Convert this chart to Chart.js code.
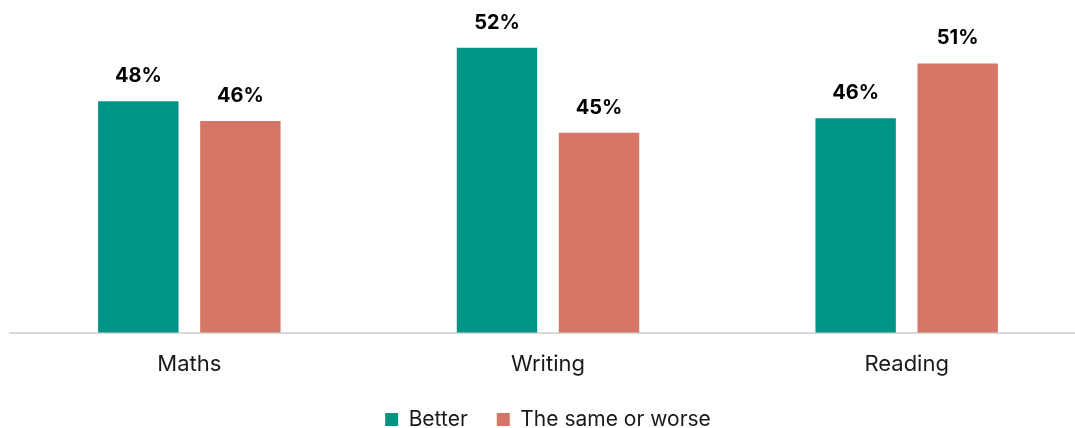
<!DOCTYPE html>
<html lang="en">
<head>
    <meta charset="UTF-8">
    <title>Better vs same or worse</title>
    <script src="https://cdn.jsdelivr.net/npm/chart.js@4.4.1/dist/chart.umd.min.js"></script>
    <style>
        html, body { margin: 0; padding: 0; background: #fff; overflow: hidden; }
        #wrap { width: 1090px; height: 428px; }
    </style>
</head>
<body>
    <div id="wrap"><canvas id="grafico" width="1090" height="428"></canvas></div>

    <script>
        // categories and series (percent)
        const subjects = ['Maths', 'Writing', 'Reading'];
        const better = [47.7, 51.8, 46.4];
        const sameOrWorse = [46.2, 45.3, 50.6];

        const teal = '#009487';
        const salmon = '#D67666';
        const fontFamily = 'Inter, "Open Sans", sans-serif';

        // value labels above the bars
        const barLabels = {
            id: 'barLabels',
            afterDatasetsDraw(chart) {
                const ctx = chart.ctx;
                ctx.save();
                ctx.font = 'bold 20px ' + fontFamily;
                ctx.fillStyle = '#000';
                ctx.textAlign = 'center';
                ctx.textBaseline = 'alphabetic';
                chart.data.datasets.forEach((ds, i) => {
                    chart.getDatasetMeta(i).data.forEach((bar, j) => {
                        ctx.fillText(Math.round(ds.data[j]) + '%', bar.x, bar.y - 19);
                    });
                });
                ctx.restore();
            }
        };

        // legend padding is used both between items and around them;
        // keep the wide item gap but trim some of the height
        const legendTrim = {
            id: 'legendTrim',
            beforeInit(chart) {
                const fit = chart.legend.fit;
                chart.legend.fit = function () {
                    fit.call(this);
                    this.height -= 12;
                };
            }
        };

        new Chart(document.getElementById('grafico'), {
            type: 'bar',
            data: {
                labels: subjects,
                datasets: [
                    { label: 'Better', data: better, backgroundColor: teal },
                    { label: 'The same or worse', data: sameOrWorse, backgroundColor: salmon }
                ]
            },
            options: {
                responsive: false,
                animation: false,
                categoryPercentage: 0.569,
                barPercentage: 0.788,
                layout: { padding: { top: 6, left: 10, right: 4, bottom: 0 } },
                plugins: {
                    legend: {
                        position: 'bottom',
                        labels: {
                            boxWidth: 13,
                            boxHeight: 13,
                            padding: 29,
                            color: '#1a1a1a',
                            font: { family: fontFamily, size: 21 }
                        }
                    },
                    tooltip: { enabled: false }
                },
                scales: {
                    x: {
                        grid: { display: false },
                        border: { color: '#d9d9d9', width: 2 },
                        ticks: {
                            color: '#1a1a1a',
                            padding: 11,
                            font: { family: fontFamily, size: 22 }
                        },
                        afterFit(scale) { scale.height -= 9; }
                    },
                    y: {
                        display: false,
                        min: 30,
                        max: 55
                    }
                }
            },
            plugins: [barLabels, legendTrim]
        });
    </script>
</body>
</html>
